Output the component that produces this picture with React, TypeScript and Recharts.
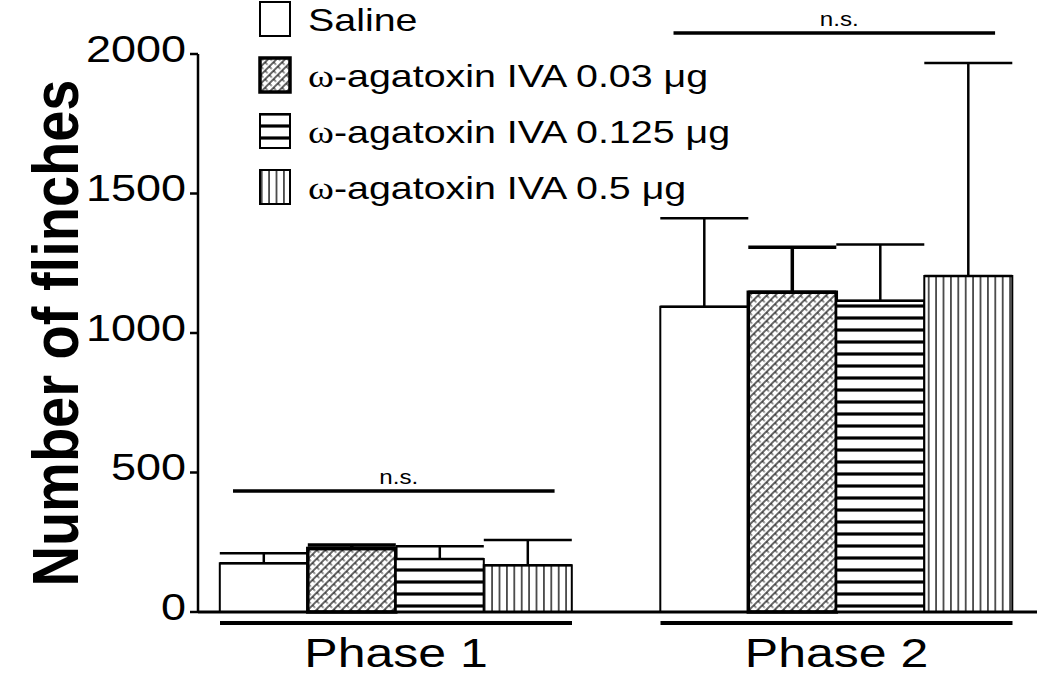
import React from 'react';
import { BarChart, Bar, XAxis, YAxis, ErrorBar, ReferenceLine } from 'recharts';

const phases = ['Phase 1', 'Phase 2'];
const salineMean = [175, 1094];
const salineSem = [36, 317];
const aga003Mean = [228, 1146];
const aga003Sem = [12, 161];
const aga0125Mean = [190, 1116];
const aga0125Sem = [46, 201];
const aga05Mean = [168, 1204];
const aga05Sem = [90, 764];
const sigLevel = [434, 2075];
const sigText = ['n.s.', 'n.s.'];
const yTicks = [0, 500, 1000, 1500, 2000];

const FONT = '"Liberation Sans", Arial, sans-serif';
const STRETCH = 1.25;

const series = [
  { key: 'saline', name: 'Saline', mean: salineMean, sem: salineSem, fill: 'none', border: 2 },
  { key: 'a003', name: 'ω-agatoxin IVA 0.03 μg', mean: aga003Mean, sem: aga003Sem, fill: 'hatch', border: 3.5 },
  { key: 'a0125', name: 'ω-agatoxin IVA 0.125 μg', mean: aga0125Mean, sem: aga0125Sem, fill: 'hstripe', border: 2 },
  { key: 'a05', name: 'ω-agatoxin IVA 0.5 μg', mean: aga05Mean, sem: aga05Sem, fill: 'vstripe', border: 2 },
];

const data = phases.map((phase, i) => {
  const row: Record<string, any> = { phase, pos: i };
  series.forEach((s) => {
    row[s.key] = s.mean[i];
    row[s.key + 'Err'] = [0, s.sem[i]];
  });
  return row;
});

const fillFor = (prefix: string, fill: string) => (fill === 'none' ? '#fff' : `url(#${prefix}${fill})`);

const Patterns = ({ prefix }: { prefix: string }) => (
  <defs>
    <pattern id={`${prefix}hatch`} width={6} height={6} patternUnits="userSpaceOnUse" patternTransform="rotate(-45)">
      <rect width={6} height={6} fill="#fff" />
      <line x1={0} y1={1} x2={6} y2={1} stroke="#000" strokeWidth={1.2} />
      <line x1={3} y1={1} x2={3} y2={4.5} stroke="#000" strokeWidth={0.9} />
    </pattern>
    <pattern id={`${prefix}hstripe`} width={10} height={12} patternUnits="userSpaceOnUse">
      <rect width={10} height={12} fill="#fff" />
      <line x1={0} y1={6} x2={10} y2={6} stroke="#000" strokeWidth={3.2} />
    </pattern>
    <pattern id={`${prefix}vstripe`} width={7.4} height={10} patternUnits="userSpaceOnUse">
      <rect width={7.4} height={10} fill="#fff" />
      <line x1={3.7} y1={0} x2={3.7} y2={10} stroke="#000" strokeWidth={1.3} />
    </pattern>
  </defs>
);

const CountTick = ({ x, y, payload }: any) => (
  <text transform={`translate(${x},${y}) scale(${STRETCH},1)`} textAnchor="end" dy="0.22em" fontSize={36} fontFamily={FONT} fill="#000">
    {payload.value}
  </text>
);

const PhaseTick = ({ x, y, payload }: any) => (
  <g>
    <line x1={x - 176} x2={x + 176} y1={y + 11} y2={y + 11} stroke="#000" strokeWidth={4} />
    <text transform={`translate(${x},${y + 55}) scale(${STRETCH},1)`} textAnchor="middle" fontSize={40} fontFamily={FONT} fill="#000">
      {payload.value}
    </text>
  </g>
);

const YTitle = ({ viewBox }: any) => {
  const cy = viewBox.y + viewBox.height / 2;
  return (
    <text transform={`translate(78,${cy}) scale(1.15,1) rotate(-90)`} textAnchor="middle" fontSize={56} fontWeight="bold" fontFamily={FONT} fill="#000">
      Number of flinches
    </text>
  );
};

const NsLabel = ({ viewBox, value }: any) => {
  if (!viewBox) return null;
  return (
    <text transform={`translate(${viewBox.x + viewBox.width / 2 + 5},${viewBox.y - 7}) scale(1.15,1)`} textAnchor="middle" fontSize={21} fontFamily={FONT} fill="#000">
      {value}
    </text>
  );
};

const PatternLegend = () => (
  <svg width={500} height={215} style={{ position: 'absolute', left: 258, top: 0 }}>
    <Patterns prefix="lg-" />
    {series.map((s, i) => {
      const omega = s.name.startsWith('ω');
      return (
        <g key={s.key}>
          <rect x={2} y={2 + i * 56} width={30} height={34} fill={fillFor('lg-', s.fill)} stroke="#000" strokeWidth={s.border} />
          <text transform={`translate(50,${31 + i * 56}) scale(${STRETCH},1)`} fontSize={31.5} fontFamily={FONT} fill="#000">
            {omega ? (
              <>
                <tspan fontFamily='"Liberation Serif", "Times New Roman", serif'>ω</tspan>
                <tspan>{s.name.slice(1)}</tspan>
              </>
            ) : (
              s.name
            )}
          </text>
        </g>
      );
    })}
  </svg>
);

const padding = { left: -22.25, right: -19.75 };

export default function App() {
  return (
    <div style={{ position: 'absolute', left: 0, top: 0, width: 1050, height: 678, background: '#fff' }}>
      <BarChart
        width={1050}
        height={678}
        data={data}
        margin={{ top: 54, right: 13, bottom: 6, left: 0 }}
        barCategoryGap="10%"
        barGap={0}
      >
        <Patterns prefix="ch-" />
        <XAxis
          dataKey="phase"
          padding={padding}
          axisLine={{ stroke: '#000', strokeWidth: 3 }}
          tickLine={false}
          tickSize={0}
          tickMargin={0}
          height={60}
          tick={<PhaseTick />}
          interval={0}
        />
        <XAxis xAxisId="pos" type="number" dataKey="pos" domain={[-0.5, 1.5]} padding={padding} hide allowDataOverflow />
        <YAxis
          domain={[0, 2000]}
          ticks={yTicks}
          width={198}
          axisLine={{ stroke: '#000', strokeWidth: 2.5 }}
          tickLine={{ stroke: '#000', strokeWidth: 2.5 }}
          tickSize={8}
          tickMargin={4}
          tick={<CountTick />}
          label={<YTitle />}
        />
        {series.map((s) => (
          <Bar
            key={s.key}
            dataKey={s.key}
            name={s.name}
            fill={fillFor('ch-', s.fill)}
            stroke="#000"
            strokeWidth={s.border}
            isAnimationActive={false}
          >
            <ErrorBar dataKey={s.key + 'Err'} direction="y" width={44} stroke="#000" strokeWidth={s.border > 2 ? 3.5 : 2.5} />
          </Bar>
        ))}
        {phases.map((p, i) => (
          <ReferenceLine
            key={p}
            xAxisId="pos"
            segment={[
              { x: i - 0.37, y: sigLevel[i] },
              { x: i + 0.36, y: sigLevel[i] },
            ]}
            stroke="#000"
            strokeWidth={3.5}
            ifOverflow="visible"
            label={<NsLabel value={sigText[i]} />}
          />
        ))}
      </BarChart>
      <PatternLegend />
    </div>
  );
}
